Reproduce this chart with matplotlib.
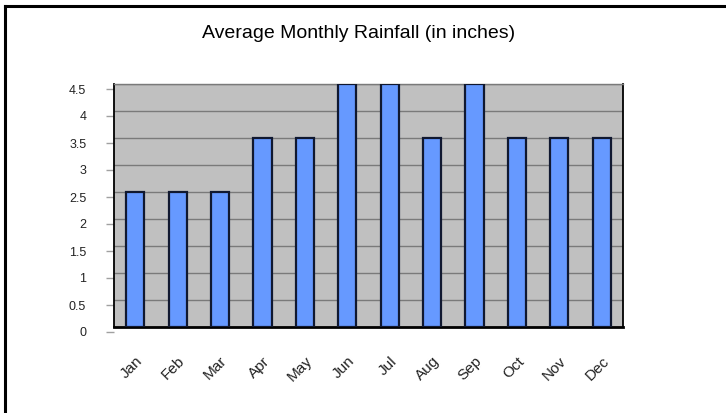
import matplotlib
matplotlib.use("Agg")
import matplotlib.pyplot as plt
import matplotlib.transforms as mtransforms
from matplotlib.lines import Line2D

months = ["Jan", "Feb", "Mar", "Apr", "May", "Jun", "Jul", "Aug", "Sep", "Oct", "Nov", "Dec"]
rainfall = [2.5, 2.5, 2.5, 3.5, 3.5, 4.5, 4.5, 3.5, 4.5, 3.5, 3.5, 3.5]
yticks = [0, 0.5, 1, 1.5, 2, 2.5, 3, 3.5, 4, 4.5]
ytick_labels = ["0", "0.5", "1", "1.5", "2", "2.5", "3", "3.5", "4", "4.5"]
title = "Average Monthly Rainfall (in inches)"

plt.rcParams['font.family'] = ['Liberation Sans', 'DejaVu Sans']

fig = plt.figure(figsize=(7.26, 4.13), dpi=100)
fig.patch.set_facecolor("white")

# outer frame (top and left lines)
fig.add_artist(Line2D([5/726, 5/726], [0, 1 - 6/413], transform=fig.transFigure, color="black", lw=2.2))
fig.add_artist(Line2D([5/726, 1], [1 - 6/413, 1 - 6/413], transform=fig.transFigure, color="black", lw=2.2))

ax = fig.add_axes([114/726, 1 - 327/413, (623 - 114)/726, (327 - 84)/413])
ax.set_facecolor("#c0c0c0")
x = list(range(len(months)))
ax.bar(x, rainfall, width=0.43, color="#6699ff", edgecolor="#101830", linewidth=1.6, zorder=3)
ax.set_xlim(-0.5, len(months) - 0.5)
ax.set_ylim(0, 4.5)
ax.set_yticks(yticks)
ax.set_yticklabels(ytick_labels, fontsize=9)
ax.yaxis.grid(True, color="#7a7a7a", linewidth=1.0, zorder=1)
ax.set_axisbelow(True)

ax.set_xticks(x)
ax.set_xticklabels(months, fontsize=11, rotation=45, ha="right", rotation_mode="anchor", va="center")
ax.tick_params(axis="x", length=0, pad=23, labelcolor="#222222")
ax.tick_params(axis="y", length=6, color="#a0a0a0", width=1, pad=14, labelcolor="#222222")

xoff = mtransforms.ScaledTranslation(5/100, 0, fig.dpi_scale_trans)
for lab in ax.get_xticklabels():
    lab.set_transform(lab.get_transform() + xoff)

# y tick marks and labels sit slightly below the gridlines in the original
yoff = mtransforms.ScaledTranslation(0, -5/100, fig.dpi_scale_trans)
for t in ax.yaxis.get_major_ticks():
    t.tick1line.set_transform(t.tick1line.get_transform() + yoff)
    t.label1.set_transform(t.label1.get_transform() + yoff)

for side in ["left", "right"]:
    ax.spines[side].set_color("black")
    ax.spines[side].set_linewidth(1.3)
ax.spines["bottom"].set_color("black")
ax.spines["bottom"].set_linewidth(2.0)
ax.spines["top"].set_color("#7a7a7a")
ax.spines["top"].set_linewidth(1.0)

fig.text(359 / 726, 1 - 34/413, title, ha="center", va="center", fontsize=14, color="black")

fig.savefig("out.png", dpi=100)
